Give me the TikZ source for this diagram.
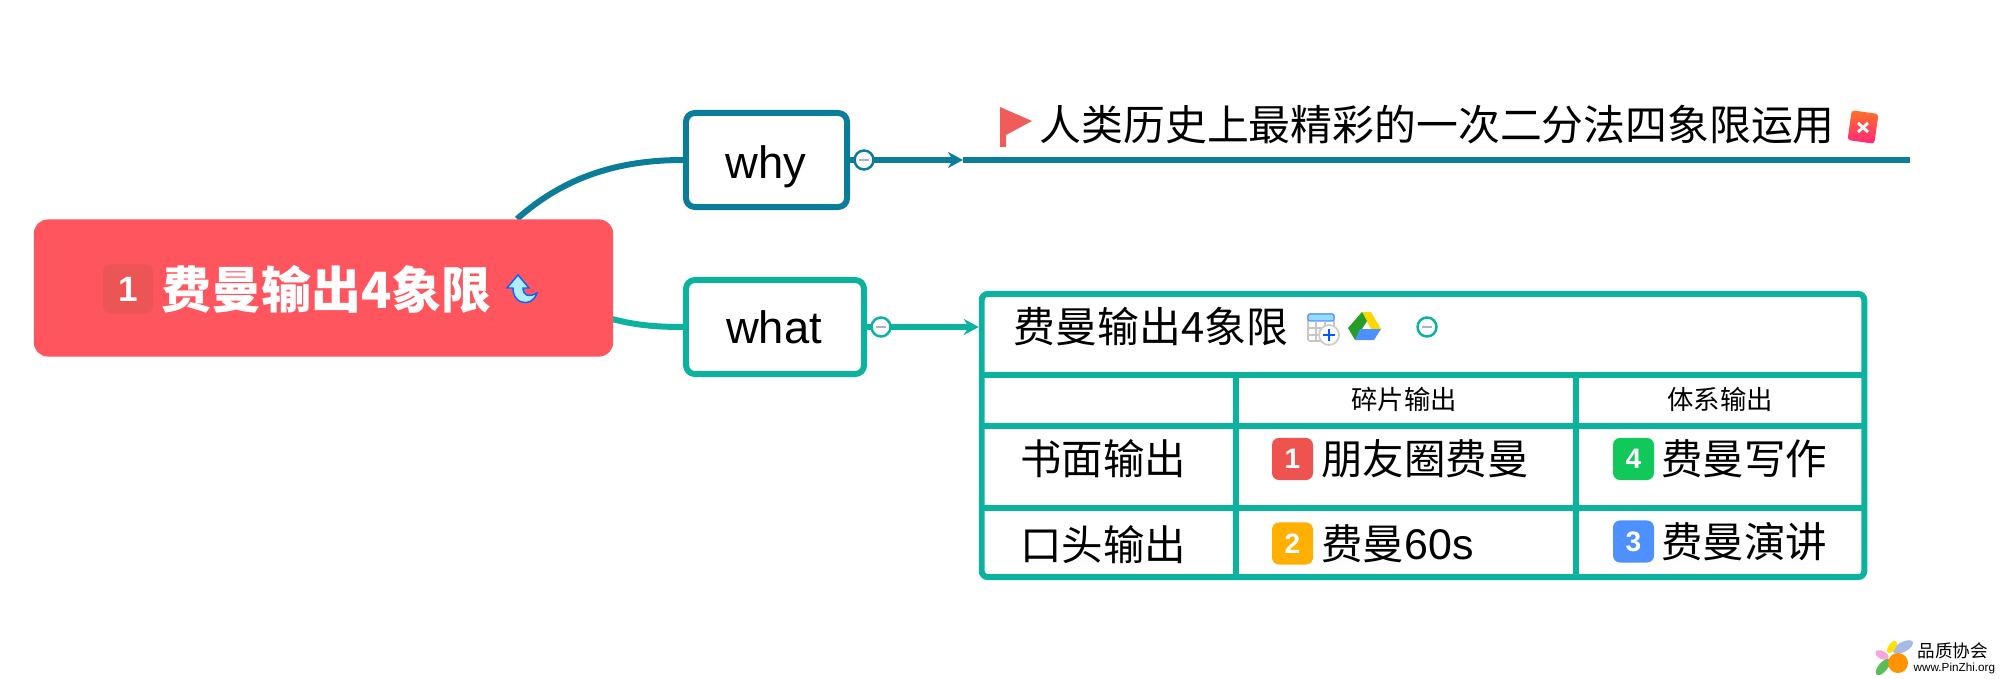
\documentclass[tikz,border=0pt]{standalone}
\usepackage{fontspec}
\setmainfont{Noto Sans CJK SC}
\newfontfamily\latinfont{Liberation Sans}
\usetikzlibrary{shapes,arrows.meta,positioning,fit,backgrounds}
\definecolor{whyblue}{RGB}{11,125,154}
\definecolor{whatgreen}{RGB}{11,179,159}
\definecolor{rootred}{RGB}{255,85,94}
\definecolor{rootbadge}{RGB}{235,85,85}
\definecolor{badgered}{RGB}{239,83,80}
\definecolor{badgegreen}{RGB}{17,201,91}
\definecolor{badgeorange}{RGB}{255,176,0}
\definecolor{badgeblue}{RGB}{77,144,254}
\definecolor{foldbar}{RGB}{170,175,215}

\begin{document}
\begin{tikzpicture}[x=0.01cm, y=-0.01cm,
  branch/.style={draw, rectangle, fill=white, rounded corners=0.09cm, line width=1.7pt, minimum height=0.94cm, inner sep=0},
  fold/.style={circle, draw, fill=white, line width=0.7pt, minimum size=0.19cm, inner sep=0, path picture={\draw[foldbar, line width=0.6pt] ([xshift=-1.3pt]path picture bounding box.center) -- ([xshift=1.3pt]path picture bounding box.center);}},
  plain/.style={inner sep=0, font=\fontsize{11.9}{14}\selectfont},
  cell/.style={inner sep=0, font=\fontsize{11.8}{14}\selectfont},
  head/.style={inner sep=0, font=\fontsize{7.5}{9}\selectfont},
  badge/.style={rectangle, rounded corners=0.07cm, minimum width=0.41cm, minimum height=0.42cm, inner sep=0, text=white, font=\latinfont\bfseries\fontsize{8}{9}\selectfont},
  rule/.style={whatgreen, line width=1.6pt}]
\useasboundingbox (0,0) rectangle (2000,679);

\coordinate (whystart) at (517,219);
\coordinate (whatstart) at (612,319);
\coordinate (topicleft) at (963,160);
\coordinate (topicright) at (1910,160);

\draw[whyblue, line width=1.7pt] (whystart) .. controls (565,176) and (620,160) .. (683,160);
\draw[whatgreen, line width=1.7pt] (whatstart) .. controls (635,325) and (655,327) .. (683,327);

\node[fill=rootred, rectangle, rounded corners=0.14cm, minimum width=5.79cm, minimum height=1.37cm, inner sep=0] (root) at (323.5,288) {};
\node[fill=rootbadge, rectangle, rounded corners=0.08cm, minimum width=0.5cm, minimum height=0.49cm, inner sep=0, text=white, font=\latinfont\bfseries\fontsize{10}{12}\selectfont] (rootmark) at (128,289) {1};
\node[inner sep=0, text=white, anchor=west, font=\bfseries\fontsize{14.2}{17}\selectfont] (roottext) at (161,289) {费曼输出4象限};
\fill[fill=blue!25!cyan!30!white, draw=blue!60!cyan, line width=0.4pt] (518,275) -- (529,288) -- (523,288) .. controls (523,295) and (528,298) .. (537,293) .. controls (534,301) and (528,304) .. (522,302) .. controls (515,300) and (513,294) .. (513,288) -- (507,288) -- cycle;

\node[branch, draw=whyblue, minimum width=1.61cm] (why) at (766.5,160) {};
\node[inner sep=0, anchor=base, font=\latinfont\fontsize{12.9}{15}\selectfont] (whytext) at (766,179) {why};
\node[branch, draw=whatgreen, minimum width=1.78cm] (what) at (775,327) {};
\node[inner sep=0, anchor=base, font=\latinfont\fontsize{12.9}{15}\selectfont] (whattext) at (774,343) {what};

\draw[whyblue, line width=1.7pt, -{Stealth[length=0.15cm, width=0.16cm]}] (why.east) -- (topicleft);
\draw[whyblue, line width=1.7pt] (topicleft) -- (topicright);
\node[fold, draw=whyblue] (whyfold) at (864,160) {};

\node[draw=whatgreen, rectangle, rounded corners=0.06cm, line width=1.7pt, minimum width=8.82cm, minimum height=2.83cm, inner sep=0] (grid) at (1423,435.5) {};
\draw[whatgreen, line width=1.7pt, -{Stealth[length=0.15cm, width=0.16cm]}] (what.east) -- (grid.west |- what.east);
\node[fold, draw=whatgreen] (whatfold) at (881,327) {};

\fill[fill=badgered!95!white] (1000,107) -- (1032,121) -- (1006,135) -- (1006,147) -- (1000,147) -- cycle;
\node[plain, anchor=west] (topic) at (1039,125) {人类历史上最精彩的一次二分法四象限运用};
\node[rectangle, rotate=-8, rounded corners=0.03cm, minimum width=0.27cm, minimum height=0.3cm, inner sep=0, top color=orange!70!red!85!white, bottom color=red!60!magenta!85!white] (xmindmark) at (1863,127) {};
\draw[white, line width=0.8pt] (1858,123) -- (1868,132) (1868,123) -- (1858,132);

\coordinate (colone) at (1236,375);
\coordinate (coltwo) at (1576,375);
\draw[rule] (grid.west |- 0,375) -- (grid.east |- 0,375);
\draw[rule] (grid.west |- 0,426) -- (grid.east |- 0,426);
\draw[rule] (grid.west |- 0,508) -- (grid.east |- 0,508);
\draw[rule] (colone) -- (colone |- grid.south);
\draw[rule] (coltwo) -- (coltwo |- grid.south);

\node[plain, anchor=west] (gridtitle) at (1013,327) {费曼输出4象限};
\draw[gray!45, line width=0.5pt, rounded corners=0.02cm] (1308,314) rectangle (1334,341);
\fill[blue!35!cyan!40!white, draw=blue!60!cyan!70!white, line width=0.3pt, rounded corners=0.02cm] (1308,314) rectangle (1334,321);
\draw[gray!45, line width=0.4pt] (1308,328) -- (1334,328) (1308,335) -- (1334,335) (1316,321) -- (1316,341) (1325,321) -- (1325,341);
\node[circle, draw=gray!40, fill=white, line width=0.5pt, minimum size=0.2cm, inner sep=0] (addmark) at (1329,335) {};
\draw[blue!65!cyan, line width=0.6pt] (1323,335) -- (1335,335) (1329,329) -- (1329,341);
\fill[fill=yellow!75!orange] (1362,312) -- (1371,312) -- (1381,329) -- (1371,329) -- cycle;
\fill[fill=green!55!black!85!white] (1362,312) -- (1367,321) -- (1355,340) -- (1348,328) -- cycle;
\fill[fill=badgeblue] (1360,329) -- (1381,329) -- (1374,340) -- (1355,340) -- cycle;
\node[fold, draw=whatgreen] (gridfold) at (1427,327) {};

\node[head] (headone) at (1404,399) {碎片输出};
\node[head] (headtwo) at (1720,399) {体系输出};
\node[cell] (rowone) at (1103,459) {书面输出};
\node[cell] (rowtwo) at (1103,545) {口头输出};

\node[badge, fill=badgered] (markone) at (1292.5,459) {1};
\node[cell, right=0.07cm of markone] (cellone) {朋友圈费曼};
\node[badge, fill=badgegreen] (markfour) at (1633.5,459) {4};
\node[cell, right=0.06cm of markfour] (cellfour) {费曼写作};
\node[badge, fill=badgeorange] (marktwo) at (1292.5,543.5) {2};
\node[cell, right=0.07cm of marktwo] (celltwo) {费曼{\latinfont\fontsize{12.2}{14}\selectfont 60s}};
\node[badge, fill=badgeblue] (markthree) at (1633.5,541.5) {3};
\node[cell, right=0.06cm of markthree] (cellthree) {费曼演讲};

\fill[fill=cyan!45!blue!35!white] (1903,647) ellipse [x radius=0.11cm, y radius=0.05cm, rotate=28];
\fill[fill=yellow!85!orange] (1892,647) ellipse [x radius=0.07cm, y radius=0.035cm, rotate=55];
\fill[fill=magenta!35!white] (1882,655) ellipse [x radius=0.07cm, y radius=0.04cm, rotate=-25];
\fill[fill=green!60!black!65!white] (1883,667) ellipse [x radius=0.1cm, y radius=0.045cm, rotate=50];
\fill[fill=orange!85!yellow] (1898,663) circle [radius=0.1cm];
\node[inner sep=0, anchor=west, font=\fontsize{5}{6}\selectfont] (logotitle) at (1917,651) {品质协会};
\node[inner sep=0, anchor=west, font=\latinfont\fontsize{3.33}{4}\selectfont] (logourl) at (1913,668) {www.PinZhi.org};
\end{tikzpicture}
\end{document}
